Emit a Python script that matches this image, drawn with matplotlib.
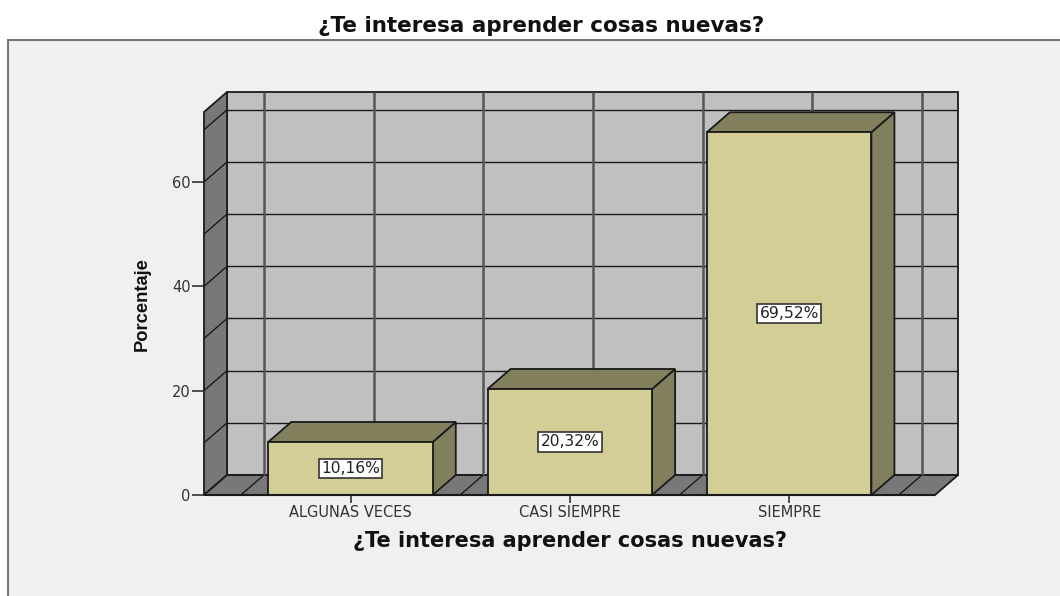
import matplotlib
matplotlib.use('Agg')
import numpy as np
from matplotlib import pyplot as plt
from matplotlib.patches import Rectangle

# Data
categories = ['ALGUNAS VECES', 'CASI SIEMPRE', 'SIEMPRE']
percentages = [10.16, 20.32, 69.52]
bar_labels = ['10,16%', '20,32%', '69,52%']
y_ticks = [0, 20, 40, 60]
y_grid = [0, 10, 20, 30, 40, 50, 60, 70]
x_grid = [-0.5, 0, 0.5, 1, 1.5, 2, 2.5]
title = '¿Te interesa aprender cosas nuevas?'

# Size of the fake 3D effect, in data units
dx = 0.105
dy = 3.83
bar_w = 0.75
x0, x1 = -0.668, 2.665
y0, y1 = 0, 73.4

W, H = 1060, 596
fig = plt.figure(figsize=(W/100, H/100), dpi=100, facecolor='white')

# Gray panel behind the chart
fig.add_artist(Rectangle((8/W, -0.1), 1.1, 1.1 - 40/H, transform=fig.transFigure,
                         facecolor='#F0F0F0', edgecolor='#777777', linewidth=1.5, zorder=0))

ax = fig.add_axes([204/W, (H-495)/H, (935-204)/W, (495-112)/H], zorder=2)
ax.patch.set_visible(False)
ax.set_xlim(x0, x1)
ax.set_ylim(y0, y1)
for s in ['top', 'right', 'left', 'bottom']:
    ax.spines[s].set_visible(False)


def poly(xs, ys, color, z, lw=1.3):
    ax.fill(xs, ys, facecolor=color, edgecolor='#1a1a1a', linewidth=lw, clip_on=False, zorder=z)


def line(xs, ys, color='#1a1a1a', lw=1.0, z=2):
    ax.plot(xs, ys, color=color, linewidth=lw, clip_on=False, zorder=z, solid_capstyle='butt')


# Back wall, left wall and floor
poly([x0+dx, x1+dx, x1+dx, x0+dx], [y0+dy, y0+dy, y1+dy, y1+dy], '#C0C0C0', 1)
poly([x0, x0+dx, x0+dx, x0], [y0, y0+dy, y1+dy, y1], '#787878', 1)
poly([x0, x1, x1+dx, x0+dx], [y0, y0, y0+dy, y0+dy], '#787878', 1)

# Grid on the walls
for v in y_grid[1:]:
    line([x0+dx, x1+dx], [v+dy, v+dy])
    line([x0, x0+dx], [v, v+dy])
for v in x_grid:
    line([v+dx, v+dx], [y0+dy, y1+dy], color='#555555', lw=1.8)
    line([v, v+dx], [y0, y0+dy])

# Bars
for i, val in enumerate(percentages):
    l, r = i - bar_w/2, i + bar_w/2
    poly([r, r+dx, r+dx, r], [0, dy, val+dy, val], '#827F5C', 3)
    poly([l, r, r+dx, l+dx], [val, val, val+dy, val+dy], '#827F5C', 3)
    ax.bar(i, val, width=bar_w, color='#D2CE96', edgecolor='#1a1a1a', linewidth=1.3, zorder=4)
    ax.text(i, val/2, bar_labels[i], ha='center', va='center', fontsize=11.2, color='#222222',
            family='DejaVu Sans', zorder=5,
            bbox=dict(boxstyle='square,pad=0.15', facecolor='white', edgecolor='#333333', linewidth=1.2))

line([x0, x1], [0, 0], lw=1.5, z=5)

# Axes ticks and labels
ax.set_yticks(y_ticks)
ax.set_xticks(range(len(categories)))
ax.set_xticklabels(categories)
ax.tick_params(axis='y', length=8.5, width=1.2, color='#333333', labelsize=10.5, labelcolor='#333333', pad=1)
ax.tick_params(axis='x', length=6, width=1.2, color='#333333', labelsize=10.5, labelcolor='#333333', pad=1.5)

fig.text(541/W, 1 - 26/H, title, ha='center', va='center', fontsize=15.5, fontweight='bold',
         family='DejaVu Sans', color='#111111')
fig.text(570/W, 1 - 541/H, title, ha='center', va='center', fontsize=15, fontweight='bold',
         family='DejaVu Sans', color='#111111')
fig.text(142/W, 1 - 304/H, 'Porcentaje', ha='center', va='center', rotation=90, fontsize=13.2,
         fontweight='bold', family=['Liberation Sans Narrow', 'Liberation Sans'], color='#111111')

fig.savefig('out.png', dpi=100, facecolor='white')
